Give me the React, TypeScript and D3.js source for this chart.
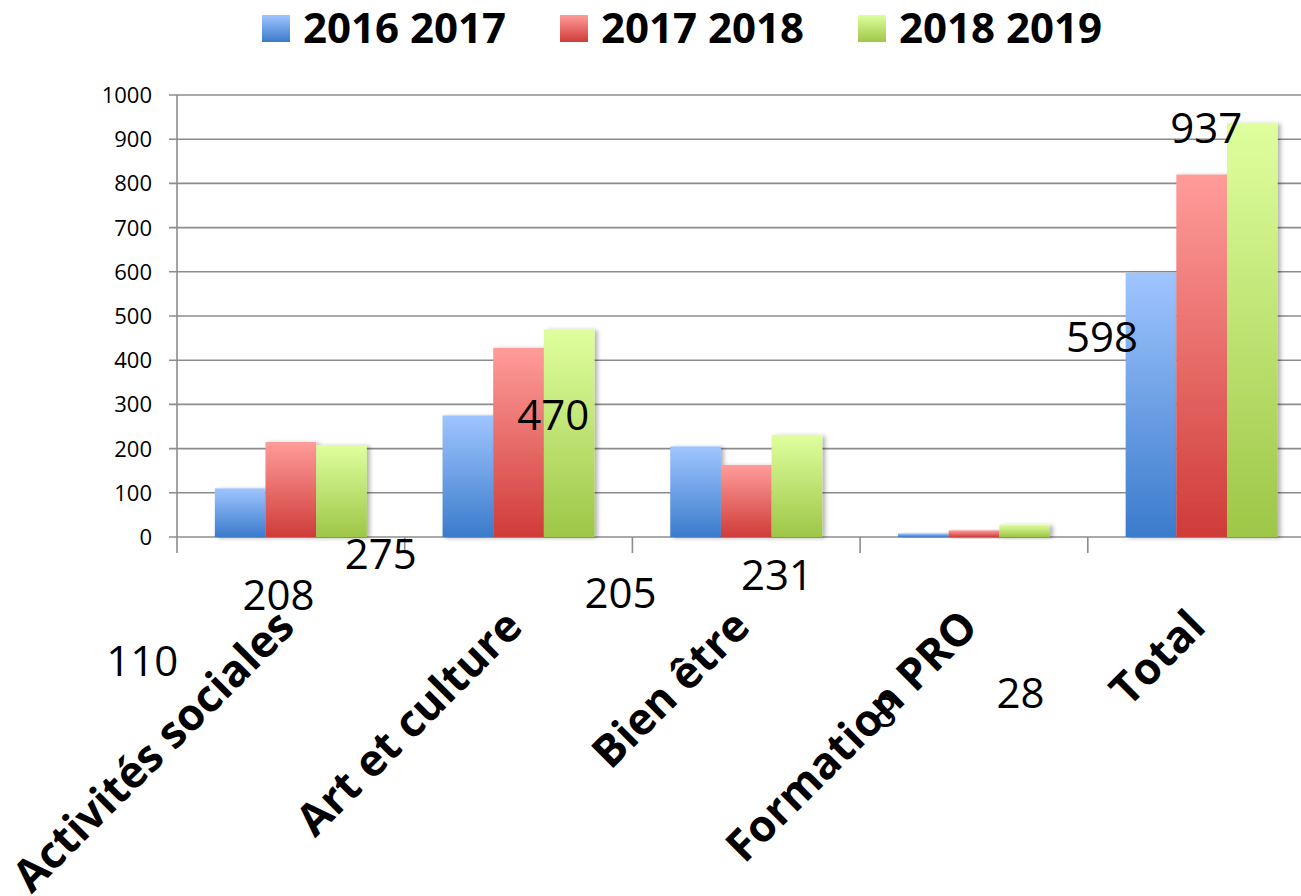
import React from "react";
import * as d3 from "d3";

const categories = ["Activités sociales", "Art et culture", "Bien être", "Formation PRO", "Total"];
const seriesNames = ["2016 2017", "2017 2018", "2018 2019"];
const values2016 = [110, 275, 205, 8, 598];
const values2017 = [215, 428, 163, 15, 820];
const values2018 = [208, 470, 231, 28, 937];
const yTicks = [0, 100, 200, 300, 400, 500, 600, 700, 800, 900, 1000];

// which series carry a floating value label (as in the source picture)
const labelledSeries = [0, 2];

const W = 1301;
const H = 896;
const plotLeft = 177;
const step = 227.7;
const plotRight = plotLeft + step * categories.length;
const plotTop = 95;
const plotBottom = 537;

const gradients = [
  { id: "gBlue", top: "#9fc5ff", bottom: "#3b7bcb" },
  { id: "gRed", top: "#ff9c9a", bottom: "#cf3c39" },
  { id: "gGreen", top: "#dfff9e", bottom: "#9ec647" },
];

// layout of the free-floating labels: [dx from bar centre, baseline y]
const labelLayout: Record<string, [number, number]> = {
  "0-0": [-98, 676],
  "0-2": [-63, 610],
  "1-0": [-87, 569],
  "1-2": [-16, 430],
  "2-0": [-75, 608],
  "2-2": [-20, 590],
  "3-0": [-38, 727],
  "3-2": [-4, 708],
  "4-0": [-49, 352],
  "4-2": [-46, 143],
};

export default function App() {
  const series = [values2016, values2017, values2018];
  const x = d3
    .scaleBand<string>()
    .domain(categories)
    .range([plotLeft, plotRight])
    .paddingInner(0.3325)
    .paddingOuter(0.1662);
  const xs = d3
    .scaleBand<number>()
    .domain(d3.range(series.length))
    .range([0, x.bandwidth()])
    .padding(0);
  const y = d3.scaleLinear().domain([0, 1000]).range([plotBottom, plotTop]);

  const font = "'Open Sans', 'Noto Sans', sans-serif";
  const gridColor = "#8c8c8c";

  const legendX = [262, 560, 858];

  return (
    <svg
      width={W}
      height={H}
      style={{ position: "absolute", left: 0, top: 0, background: "#fff" }}
      fontFamily={font}
    >
      <defs>
        {gradients.map((g) => (
          <linearGradient key={g.id} id={g.id} x1="0" y1="0" x2="0" y2="1">
            <stop offset="0%" stopColor={g.top} />
            <stop offset="100%" stopColor={g.bottom} />
          </linearGradient>
        ))}
        <filter id="shadow" x="-20%" y="-20%" width="150%" height="140%">
          <feDropShadow dx="3" dy="1" stdDeviation="2" floodColor="#000" floodOpacity="0.3" />
        </filter>
      </defs>

      {/* legend */}
      {seriesNames.map((s, i) => (
        <g key={s}>
          <rect x={legendX[i]} y={15} width={28} height={27} fill={`url(#${gradients[i].id})`} />
          <text x={legendX[i] + 41} y={43} fontSize={42} fontWeight={700} fill="#000">
            {s}
          </text>
        </g>
      ))}

      {/* gridlines */}
      {yTicks.map((t) => (
        <g key={t}>
          <line x1={plotLeft - 8} x2={W} y1={y(t)} y2={y(t)} stroke={gridColor} strokeWidth={1.6} />
          <text
            x={152}
            y={y(t)}
            dy="0.36em"
            textAnchor="end"
            fontSize={22}
            fill="#000"
          >
            {t}
          </text>
        </g>
      ))}
      <line x1={plotLeft} x2={plotLeft} y1={plotTop} y2={plotBottom + 16} stroke={gridColor} strokeWidth={1.6} />
      {categories.slice(1).map((c) => (
        <line
          key={c}
          x1={x(c)! - (x.step() - x.bandwidth()) / 2}
          x2={x(c)! - (x.step() - x.bandwidth()) / 2}
          y1={plotBottom}
          y2={plotBottom + 16}
          stroke={gridColor}
          strokeWidth={1.6}
        />
      ))}

      {/* bars */}
      {categories.map((c, ci) =>
        series.map((vals, si) => (
          <rect
            key={`${ci}-${si}`}
            x={x(c)! + xs(si)!}
            y={y(vals[ci])}
            width={xs.bandwidth()}
            height={plotBottom - y(vals[ci])}
            fill={`url(#${gradients[si].id})`}
            filter="url(#shadow)"
          />
        ))
      )}

      {/* category labels */}
      {categories.map((c) => {
        const cx = x(c)! + x.bandwidth() / 2;
        return (
          <text
            key={c}
            transform={`translate(${cx + 6},${629}) rotate(-45)`}
            textAnchor="end"
            fontSize={44}
            fontWeight={700}
            fill="#000"
          >
            {c}
          </text>
        );
      })}

      {/* floating value labels */}
      {categories.map((c, ci) =>
        labelledSeries.map((si) => {
          const lay = labelLayout[`${ci}-${si}`];
          const bx = x(c)! + xs(si)! + xs.bandwidth() / 2;
          return (
            <text
              key={`l${ci}-${si}`}
              x={bx + lay[0]}
              y={lay[1]}
              textAnchor="middle"
              fontSize={42}
              fill="#000"
            >
              {series[si][ci]}
            </text>
          );
        })
      )}
    </svg>
  );
}
